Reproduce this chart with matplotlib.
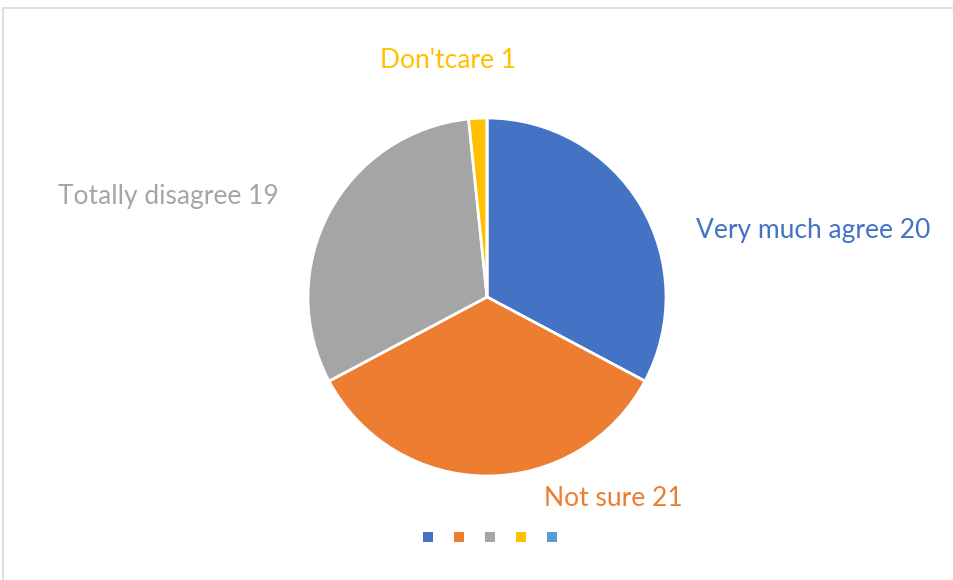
import matplotlib
matplotlib.use("Agg")
import matplotlib.pyplot as plt
from matplotlib.patches import Rectangle

categories = ["Very much agree", "Not sure", "Totally disagree", "Don'tcare", ""]
values = [20, 21, 19, 1, 0]
colors = ["#4472C4", "#ED7D31", "#A5A5A5", "#FFC000", "#5B9BD5"]
label_texts = ["Very much agree 20", "Not sure 21", "Totally disagree 19", "Don'tcare 1"]

W, H = 954, 580
cx, cy, R = 487, 297, 179  # pie centre / radius in pixels

fig = plt.figure(figsize=(W / 100, H / 100), dpi=100)
ax = fig.add_axes([0, 0, 1, 1])

# chart border
fig.patches.append(Rectangle((3.5 / W, -0.05), 1.2, 1 - 7.5 / H + 0.05,
                             transform=fig.transFigure, fill=False,
                             edgecolor="#D9D9D9", linewidth=1.2))

ax.pie(values, colors=colors, startangle=90, counterclock=False,
       radius=1, center=(0, 0), frame=True,
       wedgeprops=dict(edgecolor="white", linewidth=2))
ax.set_xlim(-cx / R, (W - cx) / R)
ax.set_ylim(-(H - cy) / R, cy / R)
ax.axis("off")

# data labels (pixel centres)
label_pos = [(813, 230), (613, 499), (168, 196), (448, 60)]
for txt, (px, py), c in zip(label_texts, label_pos, colors):
    ax.text((px - cx) / R, (cy - py) / R, txt, color=c, fontsize=19,
            family="Lato", ha="center", va="center")

# legend markers without text
leg_x = [428, 459, 490, 521, 552]
for lx, c in zip(leg_x, colors):
    ax.scatter((lx - cx) / R, (cy - 537) / R, marker="s", s=42, color=c,
               linewidths=0)

fig.savefig("out.png", dpi=100)
